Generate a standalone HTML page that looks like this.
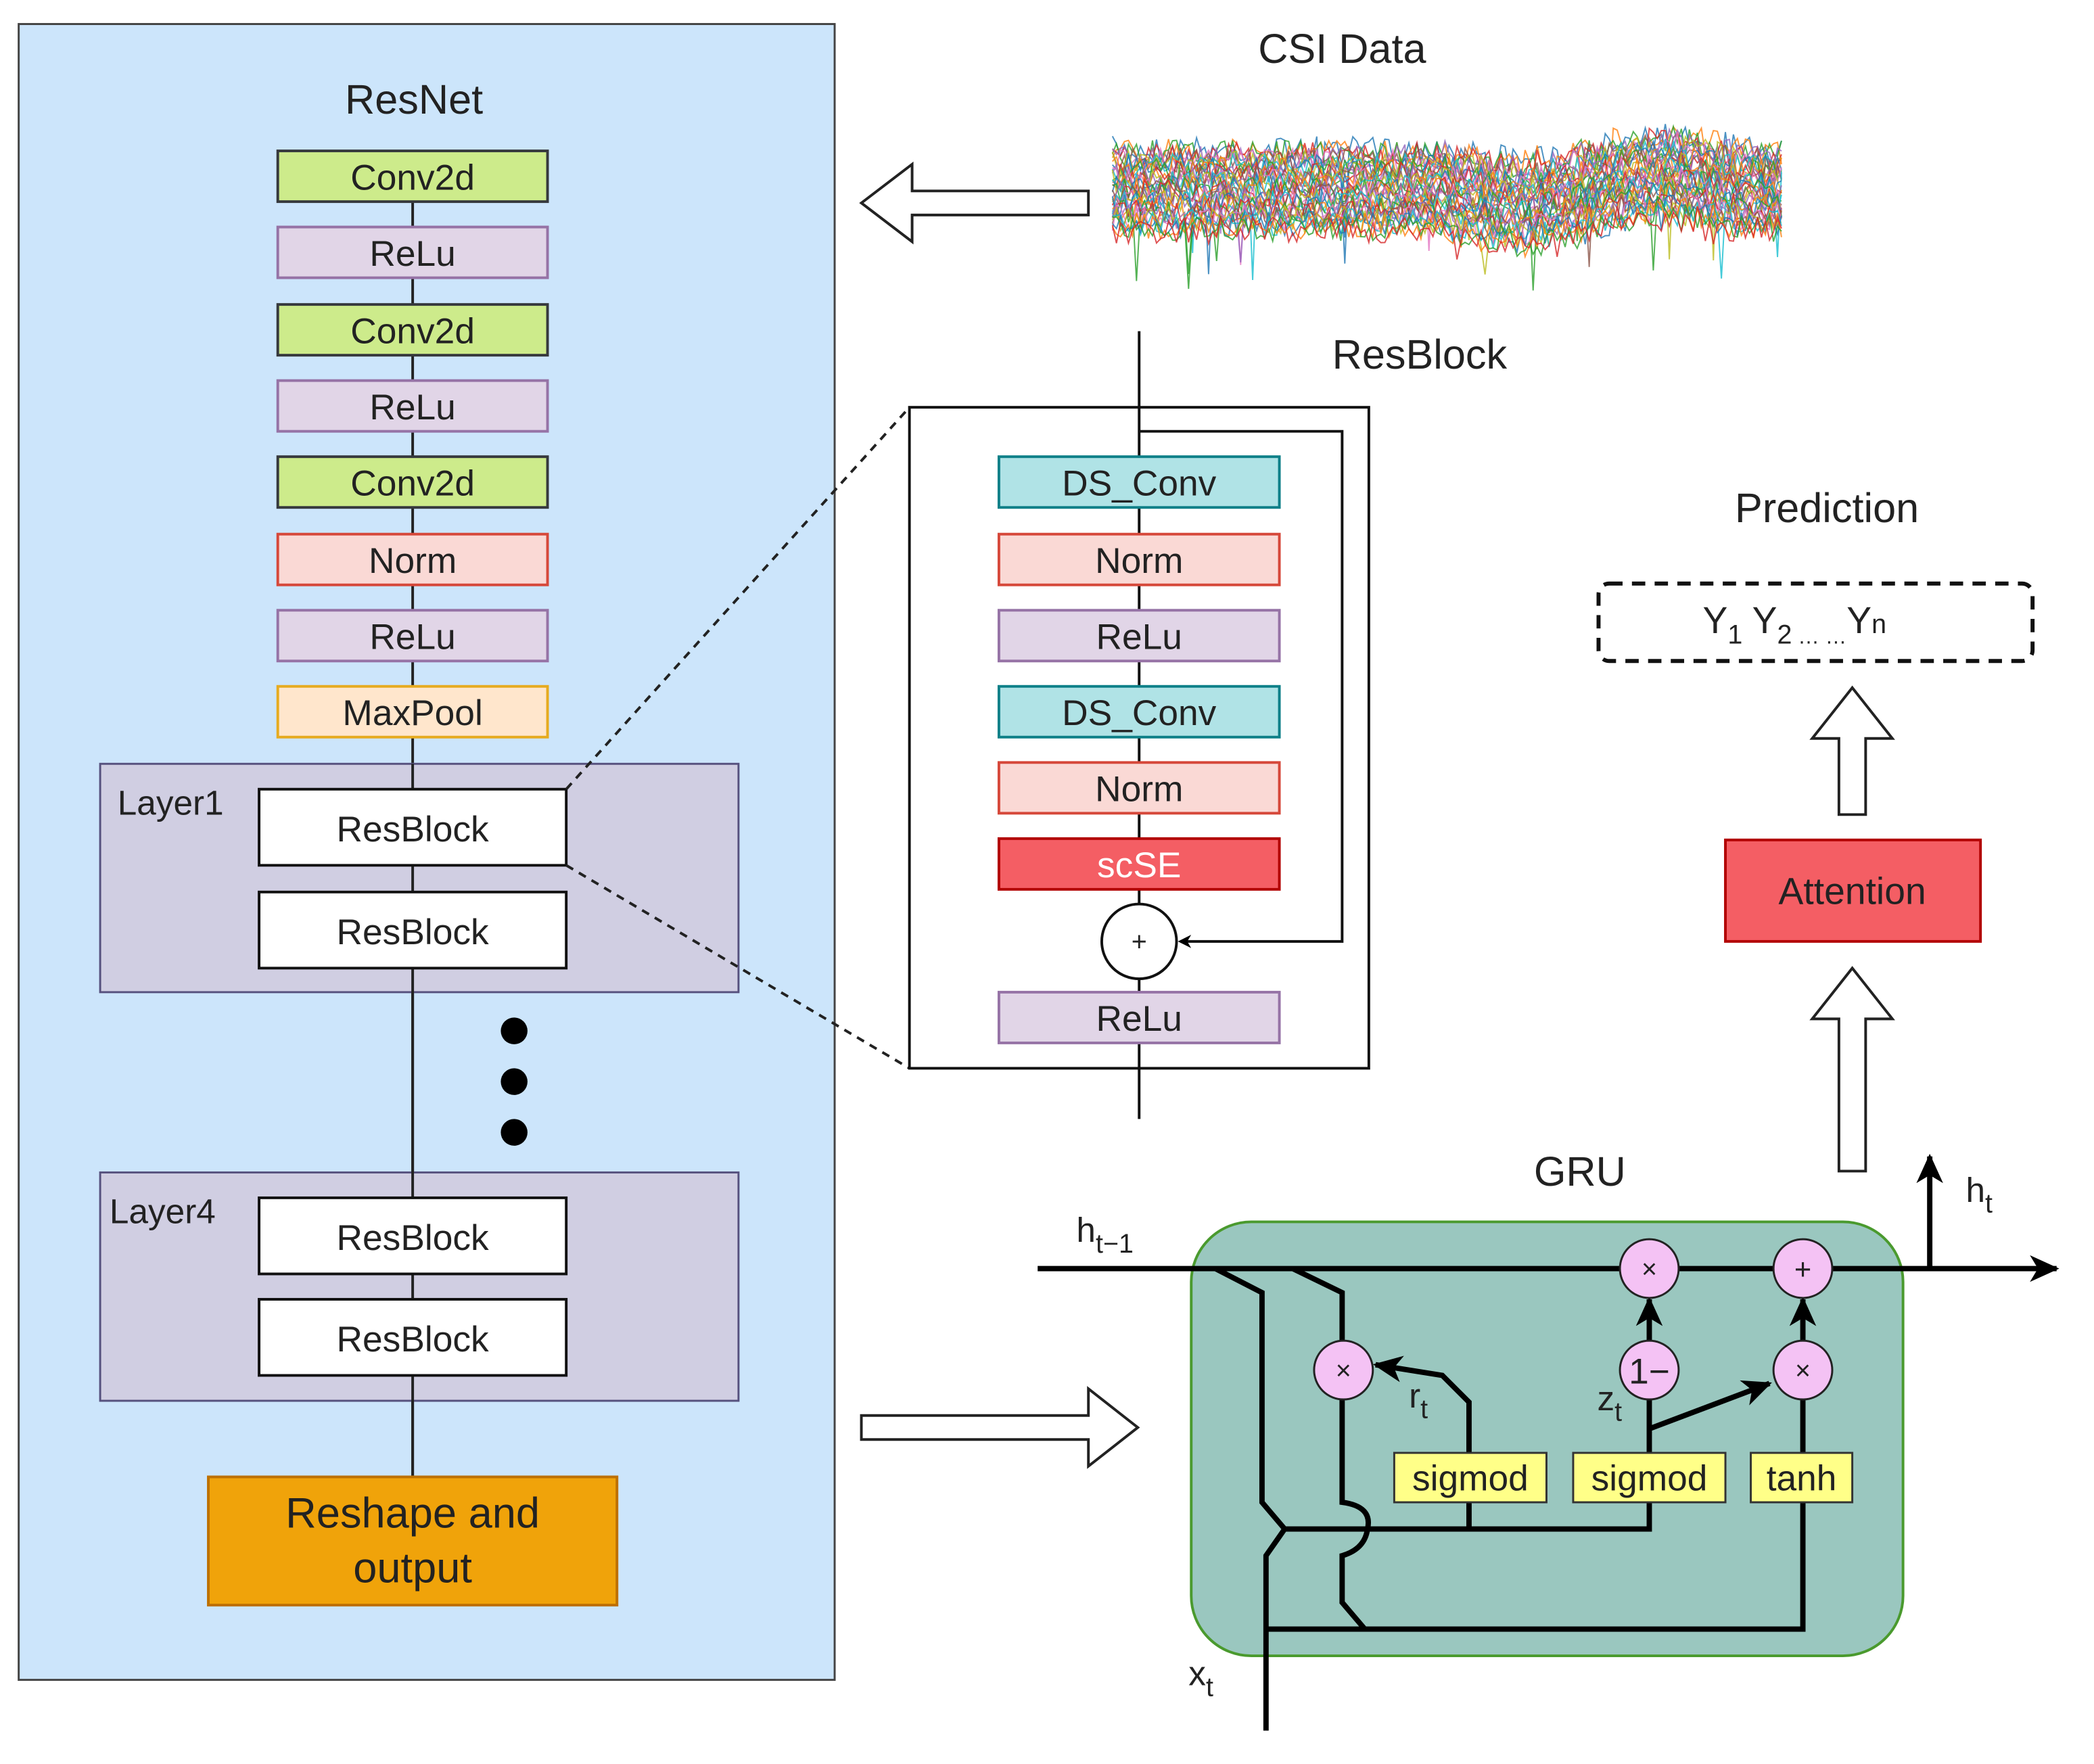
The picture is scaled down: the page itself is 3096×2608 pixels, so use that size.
<!DOCTYPE html>
<html><head><meta charset="utf-8"><style>
html,body{margin:0;padding:0;background:#fff;}
svg{display:block;}
text{font-family:"Liberation Sans",sans-serif;fill:#222;}
</style></head><body>
<svg id="s" xmlns="http://www.w3.org/2000/svg" width="3096" height="2608" viewBox="0 0 1568 1321" preserveAspectRatio="none">
<defs>
<marker id="ar" markerWidth="10" markerHeight="10" refX="8" refY="5" orient="auto" markerUnits="userSpaceOnUse"><path d="M0,0 L10,5 L0,10 L3,5 Z" fill="#000"/></marker>
<marker id="ar2" markerWidth="22" markerHeight="20" refX="20" refY="10" orient="auto" markerUnits="userSpaceOnUse"><path d="M0,0 L22,10 L0,20 L6,10 Z" fill="#000"/></marker>
</defs>
<rect x="14" y="18" width="611" height="1240" fill="#cce5fb" stroke="#444" stroke-width="1.5"/>
<text x="310" y="85" font-size="31" text-anchor="middle">ResNet</text>
<line x1="309" y1="132" x2="309" y2="1106" stroke="#222" stroke-width="2"/>
<g font-size="27" text-anchor="middle">
<rect x="208" y="113" width="202" height="38" fill="#cdeb8b" stroke="#36393d" stroke-width="2"/><text x="309" y="142">Conv2d</text>
<rect x="208" y="170" width="202" height="38" fill="#e1d5e7" stroke="#9673a6" stroke-width="2"/><text x="309" y="199">ReLu</text>
<rect x="208" y="228" width="202" height="38" fill="#cdeb8b" stroke="#36393d" stroke-width="2"/><text x="309" y="257">Conv2d</text>
<rect x="208" y="285" width="202" height="38" fill="#e1d5e7" stroke="#9673a6" stroke-width="2"/><text x="309" y="314">ReLu</text>
<rect x="208" y="342" width="202" height="38" fill="#cdeb8b" stroke="#36393d" stroke-width="2"/><text x="309" y="371">Conv2d</text>
<rect x="208" y="400" width="202" height="38" fill="#fad9d5" stroke="#d6483a" stroke-width="2"/><text x="309" y="429">Norm</text>
<rect x="208" y="457" width="202" height="38" fill="#e1d5e7" stroke="#9673a6" stroke-width="2"/><text x="309" y="486">ReLu</text>
<rect x="208" y="514" width="202" height="38" fill="#ffe6cc" stroke="#e6ab20" stroke-width="2"/><text x="309" y="543">MaxPool</text>
</g>
<rect x="75" y="572" width="478" height="171" fill="#d0cee2" stroke="#56517e" stroke-width="1.5"/>
<text x="88" y="610" font-size="26">Layer1</text>
<rect x="75" y="878" width="478" height="171" fill="#d0cee2" stroke="#56517e" stroke-width="1.5"/>
<text x="82" y="916" font-size="26">Layer4</text>
<line x1="309" y1="572" x2="309" y2="1106" stroke="#222" stroke-width="2"/>
<g font-size="27" text-anchor="middle">
<rect x="194" y="591" width="230" height="57" fill="#fff" stroke="#111" stroke-width="2"/><text x="309" y="630">ResBlock</text>
<rect x="194" y="668" width="230" height="57" fill="#fff" stroke="#111" stroke-width="2"/><text x="309" y="707">ResBlock</text>
<rect x="194" y="897" width="230" height="57" fill="#fff" stroke="#111" stroke-width="2"/><text x="309" y="936">ResBlock</text>
<rect x="194" y="973" width="230" height="57" fill="#fff" stroke="#111" stroke-width="2"/><text x="309" y="1012">ResBlock</text>
</g>
<circle cx="385" cy="772" r="10" fill="#000"/><circle cx="385" cy="810" r="10" fill="#000"/><circle cx="385" cy="848" r="10" fill="#000"/>
<rect x="156" y="1106" width="306" height="96" fill="#f0a30a" stroke="#bd7000" stroke-width="2"/>
<text x="309" y="1144" font-size="32" text-anchor="middle">Reshape and</text>
<text x="309" y="1185" font-size="32" text-anchor="middle">output</text>
<line x1="424" y1="591" x2="681" y2="305" stroke="#222" stroke-width="2" stroke-dasharray="6,5"/>
<line x1="424" y1="648" x2="681" y2="800" stroke="#222" stroke-width="2" stroke-dasharray="6,5"/>
<text x="1063" y="276" font-size="31" text-anchor="middle">ResBlock</text>
<rect x="681" y="305" width="344" height="495" fill="#fff" stroke="#111" stroke-width="2"/>
<line x1="853" y1="248" x2="853" y2="838" stroke="#111" stroke-width="2"/>
<polyline points="853,323 1005,323 1005,705 884,705" fill="none" stroke="#111" stroke-width="2" marker-end="url(#ar)"/>
<g font-size="27" text-anchor="middle">
<rect x="748" y="342" width="210" height="38" fill="#b0e3e6" stroke="#0e8088" stroke-width="2"/><text x="853" y="371">DS_Conv</text>
<rect x="748" y="400" width="210" height="38" fill="#fad9d5" stroke="#d6483a" stroke-width="2"/><text x="853" y="429">Norm</text>
<rect x="748" y="457" width="210" height="38" fill="#e1d5e7" stroke="#9673a6" stroke-width="2"/><text x="853" y="486">ReLu</text>
<rect x="748" y="514" width="210" height="38" fill="#b0e3e6" stroke="#0e8088" stroke-width="2"/><text x="853" y="543">DS_Conv</text>
<rect x="748" y="571" width="210" height="38" fill="#fad9d5" stroke="#d6483a" stroke-width="2"/><text x="853" y="600">Norm</text>
<rect x="748" y="628" width="210" height="38" fill="#f45e64" stroke="#b20000" stroke-width="2"/><text x="853" y="657" style="fill:#fff">scSE</text>
<rect x="748" y="743" width="210" height="38" fill="#e1d5e7" stroke="#9673a6" stroke-width="2"/><text x="853" y="772">ReLu</text>
</g>
<circle cx="853" cy="705" r="28" fill="#fff" stroke="#111" stroke-width="2"/>
<text x="853" y="712" font-size="20" text-anchor="middle">+</text>
<text x="1005" y="47" font-size="31" text-anchor="middle">CSI Data</text>
<g id="wave"></g>
<path d="M815,143 L683,143 L683,123 L645,152 L683,181 L683,161 L815,161 Z" fill="#fff" stroke="#222" stroke-width="2"/>
<text x="1368" y="391" font-size="31" text-anchor="middle">Prediction</text>
<rect x="1197" y="437" width="325" height="58" rx="8" fill="#fff" stroke="#111" stroke-width="3" stroke-dasharray="10,7"/>
<text x="1275" y="474" font-size="28">Y<tspan font-size="20" dy="8">1</tspan><tspan dy="-8"> Y</tspan><tspan font-size="20" dy="8">2</tspan><tspan font-size="16" dy="0"> … …</tspan><tspan dy="-8">Y</tspan><tspan font-size="20" dy="0">n</tspan></text>
<path d="M1377,610 L1377,553 L1357,553 L1387,515 L1417,553 L1397,553 L1397,610 Z" fill="#fff" stroke="#222" stroke-width="2"/>
<rect x="1292" y="629" width="191" height="76" fill="#f45e64" stroke="#b20000" stroke-width="2"/>
<text x="1387" y="677" font-size="28" text-anchor="middle">Attention</text>
<path d="M1377,877 L1377,763 L1357,763 L1387,725 L1417,763 L1397,763 L1397,877 Z" fill="#fff" stroke="#222" stroke-width="2"/>
<path d="M645,1060 L815,1060 L815,1040 L852,1069 L815,1098 L815,1078 L645,1078 Z" fill="#fff" stroke="#222" stroke-width="2"/>
<text x="1183" y="888" font-size="31" text-anchor="middle">GRU</text>
<rect x="892" y="915" width="533" height="325" rx="45" fill="#9ac7bf" stroke="#4a9a2e" stroke-width="2"/>
<g fill="none" stroke="#000" stroke-width="4">
<line x1="777" y1="950" x2="1540" y2="950" marker-end="url(#ar2)"/>
<line x1="1445" y1="950" x2="1445" y2="866" marker-end="url(#ar2)"/>
<polyline points="910,950 945,968 945,1125 962,1145 1235,1145 1235,1125"/>
<polyline points="948,1296 948,1165 962,1145"/>
<line x1="1100" y1="1145" x2="1100" y2="1125"/>
<polyline points="968,950 1005,968 1005,1004"/>
<path d="M1005,1048 L1005,1125 Q1028,1128 1024,1145 Q1022,1160 1005,1165 L1005,1200 L1022,1220"/>
<polyline points="948,1220 1350,1220 1350,1125"/>
<line x1="1350" y1="1088" x2="1350" y2="1048"/>
<polyline points="1100,1088 1100,1050 1080,1030 1030,1022" marker-end="url(#ar2)"/>
<line x1="1235" y1="1088" x2="1235" y2="1048"/>
<line x1="1235" y1="1070" x2="1325" y2="1036" marker-end="url(#ar2)"/>
<line x1="1235" y1="1004" x2="1235" y2="973" marker-end="url(#ar2)"/>
<line x1="1350" y1="1004" x2="1350" y2="973" marker-end="url(#ar2)"/>
</g>
<g stroke="#222" stroke-width="1.5" fill="#f4c2f4">
<circle cx="1235" cy="950" r="22"/><circle cx="1350" cy="950" r="22"/>
<circle cx="1006" cy="1026" r="22"/><circle cx="1235" cy="1026" r="22"/><circle cx="1350" cy="1026" r="22"/>
</g>
<g text-anchor="middle">
<text x="1235" y="957" font-size="20">×</text><text x="1350" y="958" font-size="22">+</text>
<text x="1006" y="1033" font-size="20">×</text><text x="1235" y="1036" font-size="27">1−</text><text x="1350" y="1033" font-size="20">×</text>
</g>
<g stroke="#333" stroke-width="1.5" fill="#ffff88">
<rect x="1044" y="1088" width="114" height="37"/><rect x="1178" y="1088" width="114" height="37"/><rect x="1311" y="1088" width="76" height="37"/>
</g>
<g font-size="27" text-anchor="middle">
<text x="1101" y="1116">sigmod</text><text x="1235" y="1116">sigmod</text><text x="1349" y="1116">tanh</text>
</g>
<text x="806" y="930" font-size="26">h<tspan font-size="20" dy="8">t−1</tspan></text>
<text x="1472" y="900" font-size="26">h<tspan font-size="20" dy="8">t</tspan></text>
<text x="890" y="1262" font-size="26">x<tspan font-size="20" dy="8">t</tspan></text>
<text x="1196" y="1056" font-size="26">z<tspan font-size="20" dy="8">t</tspan></text>
<text x="1055" y="1054" font-size="26">r<tspan font-size="20" dy="8">t</tspan></text>
</svg>
<script>
(function(){
var g=document.getElementById('wave');var NS='http://www.w3.org/2000/svg';
var cols=['#1f77b4','#ff7f0e','#2ca02c','#d62728','#9467bd','#8c564b','#e377c2','#bcbd22','#17becf'];
var seed=7;function r(){seed=(seed*16807)%2147483647;return seed/2147483647;}
for(var k=0;k<40;k++){var base=112+(k/40)*62;var d='';
for(var x=833;x<=1335;x+=3){var y=base+(r()-0.5)*20;
if(x>1080&&x<1300)y+=Math.sin((x-1080)/35)*10+(r()-0.5)*10;
if(r()<0.004)y+=25+r()*45;
d+=(x==833?'M':'L')+x+','+y.toFixed(1);}
var p=document.createElementNS(NS,'path');p.setAttribute('d',d);p.setAttribute('fill','none');
p.setAttribute('stroke',cols[k%9]);p.setAttribute('stroke-width','1');p.setAttribute('opacity','0.8');g.appendChild(p);}
})();
</script>
</body></html>
